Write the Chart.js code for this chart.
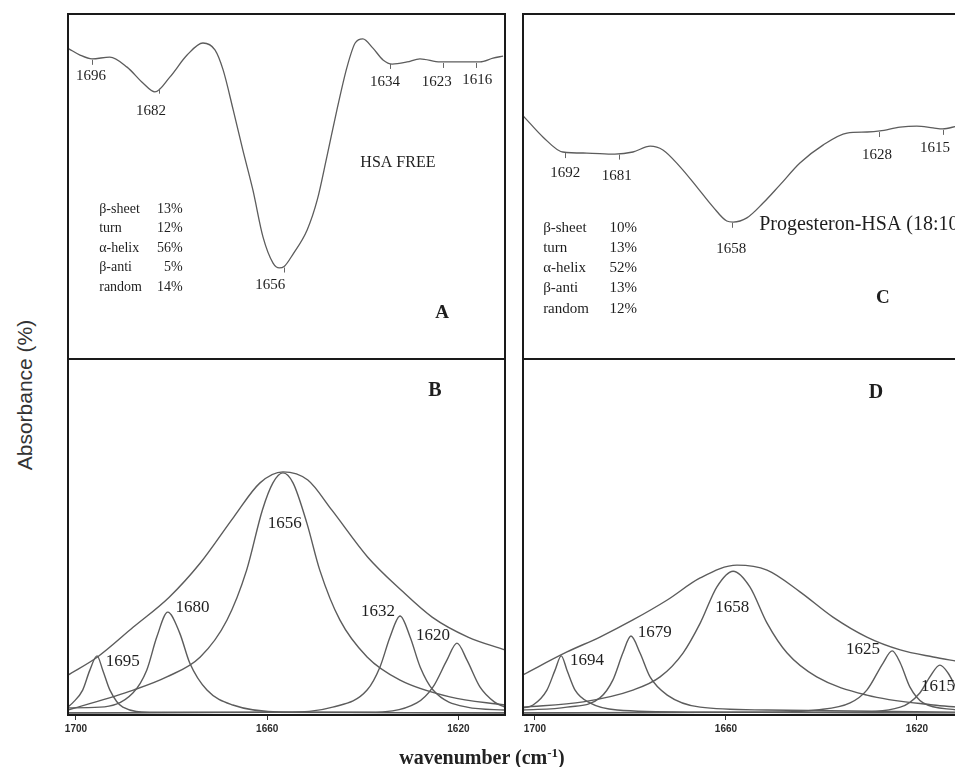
<!DOCTYPE html>
<html>
<head>
<meta charset="utf-8">
<title>FTIR amide I – HSA free / Progesteron-HSA</title>
<script src="https://cdn.jsdelivr.net/npm/chart.js@4.4.1/dist/chart.umd.min.js"></script>
<style>
  html, body { margin: 0; padding: 0; background: #fff; }
  #fig { position: relative; width: 955px; height: 767px; overflow: hidden; }
  #fig canvas { position: absolute; }
  .ytitle {
    position: absolute; left: 25px; top: 395px;
    transform: translate(-50%, -50%) rotate(-90deg);
    font: 21px "Liberation Sans", Arial, sans-serif; color: #333; white-space: nowrap;
  }
  .xtitle {
    position: absolute; left: 482px; top: 757px; transform: translate(-50%, -50%);
    font: bold 20px "Liberation Serif", "Times New Roman", serif; color: #222; white-space: nowrap;
  }
  .xtitle sup { font-size: 13px; }
</style>
</head>
<body>
<div id="fig">
  <canvas id="chart-a" width="453" height="361" style="left:60px;top:6px"></canvas>
  <canvas id="chart-b" width="453" height="394" style="left:60px;top:351px"></canvas>
  <canvas id="chart-c" width="450" height="361" style="left:515px;top:6px"></canvas>
  <canvas id="chart-d" width="450" height="394" style="left:515px;top:351px"></canvas>
  <div class="ytitle">Absorbance (%)</div>
  <div class="xtitle">wavenumber (cm<sup>-1</sup>)</div>
</div>
<script>
// wavenumber (cm-1), relative absorbance (0-100 of panel height)

// A: second derivative, HSA free
const curveA = [
  [1700.8, 89.9], [1698.5, 88.1], [1696.0, 87.0], [1692.3, 87.5], [1688.7, 84.6],
  [1685.4, 80.0], [1682.9, 77.4], [1679.8, 81.7], [1676.2, 88.1], [1672.9, 91.6],
  [1670.4, 89.6], [1668.7, 83.8], [1666.6, 72.2], [1664.6, 60.6], [1662.5, 49.0],
  [1660.4, 35.4], [1658.3, 27.8], [1657.0, 26.4], [1656.0, 26.8], [1654.1, 30.5],
  [1651.2, 37.4], [1649.1, 46.1], [1647.1, 58.6], [1645.0, 72.2], [1642.9, 84.6],
  [1641.2, 91.6], [1639.6, 92.8], [1637.5, 90.1], [1635.4, 86.7], [1633.5, 85.5],
  [1630.4, 86.1], [1627.7, 87.0], [1623.5, 86.1], [1619.4, 86.1], [1615.2, 86.1],
  [1612.5, 87.2], [1610.4, 87.8]
];
const peaksA = [1696, 1682, 1656, 1634, 1623, 1616];
const structA = [["β-sheet", "13%"], ["turn", "12%"], ["α-helix", "56%"], ["β-anti", "5%"], ["random", "14%"]];

// C: second derivative, Progesteron-HSA
const curveC = [
  [1700.5, 70.5], [1700.1, 69.9], [1696.4, 64.3], [1692.4, 60.0], [1687.5, 59.7],
  [1681.8, 59.4], [1678.1, 60.0], [1674.6, 61.7], [1672.0, 60.6], [1668.5, 55.7],
  [1665.1, 49.9], [1661.8, 44.1], [1659.0, 40.0], [1657.7, 39.7], [1654.9, 40.9],
  [1651.6, 45.2], [1648.2, 50.4], [1644.1, 56.8], [1639.4, 62.0], [1634.5, 65.5],
  [1630.4, 65.8], [1627.8, 66.1], [1623.7, 67.2], [1620.3, 67.5], [1617.0, 67.0],
  [1615.0, 66.7], [1612.1, 67.5]
];
const peaksC = [1692, 1681, 1658, 1628, 1615];
const structC = [["β-sheet", "10%"], ["turn", "13%"], ["α-helix", "52%"], ["β-anti", "13%"], ["random", "12%"]];

// B: curve fit, HSA free
const envB = [
  [1701.7, 11.2], [1695.5, 16.3], [1688.0, 24.7], [1680.5, 33.1], [1674.0, 42.7],
  [1667.0, 55.6], [1661.5, 65.2], [1656.7, 68.3], [1651.5, 66.0], [1646.5, 57.6],
  [1639.0, 44.4], [1632.0, 35.1], [1625.5, 27.5], [1618.0, 21.9], [1610.3, 18.3]
];
const band1695B = [[1701.7, 2.2], [1700.7, 3.4], [1698.6, 7.0], [1697.1, 12.6], [1695.6, 16.6], [1694.4, 12.6], [1692.9, 7.0], [1690.2, 2.2], [1684.5, 0.8], [1610.3, 0.6]];
const band1680B = [[1701.7, 2.0], [1695.0, 2.2], [1688.1, 6.2], [1685.2, 12.6], [1683.1, 21.9], [1680.8, 28.9], [1678.3, 23.0], [1676.2, 14.6], [1672.6, 7.0], [1667.2, 2.8], [1656.7, 0.8], [1610.3, 0.6]];
const band1656B = [[1701.7, 1.4], [1688.0, 7.0], [1681.0, 10.7], [1674.0, 16.3], [1668.4, 26.7], [1664.3, 40.7], [1661.0, 57.6], [1658.8, 65.2], [1656.7, 68.0], [1654.6, 65.2], [1651.7, 53.9], [1649.0, 40.7], [1644.8, 26.7], [1639.1, 16.3], [1632.2, 9.8], [1621.8, 5.1], [1610.3, 2.8]];
const band1632B = [[1701.7, 0.6], [1656.7, 0.8], [1646.3, 2.2], [1639.1, 7.0], [1636.4, 13.5], [1634.3, 21.9], [1632.2, 27.8], [1630.1, 21.9], [1628.0, 13.5], [1625.3, 7.0], [1618.2, 2.2], [1610.3, 1.4]];
const band1620B = [[1701.7, 0.6], [1639.1, 0.8], [1628.7, 3.4], [1625.3, 7.9], [1622.4, 15.4], [1620.3, 20.2], [1618.2, 15.4], [1615.5, 7.9], [1612.5, 3.7], [1610.3, 2.2]];

// D: curve fit, Progesteron-HSA
const envD = [
  [1702.5, 11.3], [1693.3, 17.7], [1686.4, 21.9], [1679.5, 26.7], [1672.3, 32.3],
  [1665.4, 38.5], [1657.7, 42.1], [1651.4, 40.7], [1644.5, 34.6], [1637.6, 27.5],
  [1630.5, 21.9], [1623.5, 18.3], [1616.6, 16.3], [1611.6, 15.1]
];
const band1694D = [[1702.5, 2.0], [1700.4, 2.8], [1697.5, 7.0], [1695.8, 12.6], [1694.5, 16.6], [1693.3, 12.6], [1691.6, 7.0], [1688.5, 3.4], [1682.8, 1.4], [1665.4, 0.8], [1611.6, 0.6]];
const band1679D = [[1702.5, 1.4], [1693.3, 2.2], [1686.4, 4.8], [1683.7, 9.8], [1681.6, 17.4], [1679.9, 22.2], [1678.0, 17.4], [1675.9, 10.7], [1672.3, 5.6], [1665.4, 2.2], [1651.4, 1.4], [1611.6, 0.8]];
const band1658D = [[1702.5, 2.2], [1689.9, 3.7], [1679.5, 7.0], [1673.8, 10.7], [1669.0, 17.4], [1665.4, 25.8], [1661.9, 36.0], [1658.5, 40.4], [1655.0, 36.0], [1651.4, 25.8], [1647.2, 17.4], [1641.0, 10.7], [1630.5, 5.6], [1616.6, 2.8], [1611.6, 2.2]];
const band1625D = [[1702.5, 0.6], [1651.4, 0.8], [1641.0, 1.4], [1634.0, 3.4], [1630.5, 7.0], [1627.1, 14.6], [1625.2, 18.0], [1623.5, 14.6], [1621.5, 7.9], [1618.7, 3.4], [1611.6, 1.4]];
const band1615D = [[1702.5, 0.6], [1634.0, 0.8], [1623.5, 2.2], [1619.4, 6.2], [1617.3, 10.7], [1615.2, 14.0], [1613.5, 11.8], [1611.6, 7.0]];

const xTicks = [1700, 1660, 1620];

const SERIF = '"Liberation Serif", "Times New Roman", serif';
const INK = "#1e1e1e";
const LINE = "#5c5c5c";

function lineSet(points, width) {
    return {
        data: points.map(p => ({ x: p[0], y: p[1] })),
        borderColor: LINE,
        borderWidth: width || 1.4,
        pointRadius: 0,
        fill: false,
        cubicInterpolationMode: "monotone"
    };
}

// text notes + little peak ticks, placed in data coordinates
function notes(items, peakTicks) {
    return {
        id: "notes",
        afterDatasetsDraw(chart) {
            const { ctx, scales: { x, y } } = chart;
            ctx.save();
            if (peakTicks) {
                const pts = chart.getDatasetMeta(0).data;
                ctx.strokeStyle = "#666";
                ctx.lineWidth = 1;
                peakTicks.forEach(nu => {
                    const px = x.getPixelForValue(nu);
                    for (let i = 0; i < pts.length - 1; i++) {
                        const a = pts[i], b = pts[i + 1];
                        if (px >= a.x && px <= b.x) {
                            const py = a.y + (b.y - a.y) * (px - a.x) / (b.x - a.x);
                            ctx.beginPath();
                            ctx.moveTo(Math.round(px) + 0.5, py + 1);
                            ctx.lineTo(Math.round(px) + 0.5, py + 6);
                            ctx.stroke();
                            break;
                        }
                    }
                });
            }
            items.forEach(it => {
                ctx.font = it.font;
                ctx.fillStyle = INK;
                ctx.textAlign = it.align || "center";
                ctx.textBaseline = "middle";
                ctx.fillText(it.text, x.getPixelForValue(it.nu), y.getPixelForValue(it.v));
            });
            ctx.restore();
        }
    };
}

const frame = {
    id: "frame",
    afterDraw(chart) {
        const { ctx, chartArea: a } = chart;
        ctx.save();
        ctx.strokeStyle = "#1a1a1a";
        ctx.lineWidth = 2;
        ctx.strokeRect(a.left, a.top, a.right - a.left, a.bottom - a.top);
        ctx.restore();
    }
};

function hiddenX(min, max) {
    return { type: "linear", min, max, reverse: true, display: false };
}

function bottomX(min, max) {
    return {
        type: "linear", min, max, reverse: true,
        afterBuildTicks: s => { s.ticks = xTicks.map(v => ({ value: v })); },
        afterFit: s => { s.height = 30; },
        grid: { drawOnChartArea: false, drawTicks: true, tickLength: 5, color: "#333" },
        border: { display: false },
        ticks: {
            autoSkip: false, maxRotation: 0, padding: 3, color: "#2a2a2a",
            callback: v => String(v),
            font: { family: '"Liberation Sans", Arial, sans-serif', size: 10, weight: "bold" }
        }
    };
}

function createChart(id, datasets, xScale, bottomPad, plugin) {
    return new Chart(document.getElementById(id), {
        type: "line",
        data: { datasets },
        options: {
            responsive: false,
            animation: false,
            layout: { padding: { left: 8, right: 8, top: 8, bottom: bottomPad } },
            plugins: { legend: { display: false }, tooltip: { enabled: false } },
            scales: {
                x: xScale,
                y: { type: "linear", min: 0, max: 100, display: false }
            }
        },
        plugins: [plugin, frame]
    });
}

function structNotes(rows, nuLeft, nuRight, vTop, step, size) {
    const out = [];
    rows.forEach((r, i) => {
        out.push({ nu: nuLeft, v: vTop - i * step, text: r[0], font: size + "px " + SERIF, align: "left" });
        out.push({ nu: nuRight, v: vTop - i * step, text: r[1], font: size + "px " + SERIF, align: "right" });
    });
    return out;
}

// Panel A
const notesA = [
    { nu: 1696.2, v: 82.0, text: "1696" },
    { nu: 1683.7, v: 71.9, text: "1682" },
    { nu: 1658.9, v: 21.4, text: "1656" },
    { nu: 1635.0, v: 80.3, text: "1634" },
    { nu: 1624.2, v: 80.3, text: "1623" },
    { nu: 1615.8, v: 80.9, text: "1616" }
].map(n => Object.assign(n, { font: "15px " + SERIF }))
 .concat([
    { nu: 1632.3, v: 56.8, text: "HSA FREE", font: "16px " + SERIF },
    { nu: 1623.1, v: 13.3, text: "A", font: "bold 19px " + SERIF }
 ])
 .concat(structNotes(structA, 1694.5, 1677.1, 43.5, 5.65, 14));

createChart("chart-a", [lineSet(curveA, 1.3)], hiddenX(1610.0, 1701.0), 8, notes(notesA, peaksA));

// Panel C
const notesC = [
    { nu: 1691.9, v: 53.9, text: "1692" },
    { nu: 1681.4, v: 53.0, text: "1681" },
    { nu: 1658.1, v: 31.9, text: "1658" },
    { nu: 1628.4, v: 59.1, text: "1628" },
    { nu: 1616.6, v: 61.2, text: "1615" }
].map(n => Object.assign(n, { font: "15px " + SERIF }))
 .concat([
    { nu: 1652.4, v: 38.8, text: "Progesteron-HSA (18:10)", font: "20px " + SERIF, align: "left" },
    { nu: 1627.2, v: 17.7, text: "C", font: "bold 19px " + SERIF }
 ])
 .concat(structNotes(structC, 1696.4, 1677.3, 38.0, 5.85, 15));

createChart("chart-c", [lineSet(curveC, 1.3)], hiddenX(1612.1, 1700.5), 8, notes(notesC, peaksC));

// Panel B
const notesB = [
    { nu: 1690.2, v: 14.9, text: "1695" },
    { nu: 1675.6, v: 30.1, text: "1680" },
    { nu: 1656.3, v: 53.7, text: "1656" },
    { nu: 1636.8, v: 29.2, text: "1632" },
    { nu: 1625.3, v: 22.2, text: "1620" }
].map(n => Object.assign(n, { font: "17px " + SERIF }))
 .concat([{ nu: 1624.9, v: 91.0, text: "B", font: "bold 20px " + SERIF }]);

createChart("chart-b",
    [envB, band1695B, band1680B, band1656B, band1632B, band1620B].map(b => lineSet(b)),
    bottomX(1610.25, 1701.67), 0, notes(notesB));

// Panel D
const notesD = [
    { nu: 1689.1, v: 15.2, text: "1694" },
    { nu: 1674.9, v: 23.3, text: "1679" },
    { nu: 1658.7, v: 30.1, text: "1658" },
    { nu: 1631.3, v: 18.3, text: "1625" },
    { nu: 1615.6, v: 7.9, text: "1615" }
].map(n => Object.assign(n, { font: "17px " + SERIF }))
 .concat([{ nu: 1628.6, v: 90.4, text: "D", font: "bold 20px " + SERIF }]);

createChart("chart-d",
    [envD, band1694D, band1679D, band1658D, band1625D, band1615D].map(b => lineSet(b)),
    bottomX(1611.62, 1702.51), 0, notes(notesD));
</script>
</body>
</html>
